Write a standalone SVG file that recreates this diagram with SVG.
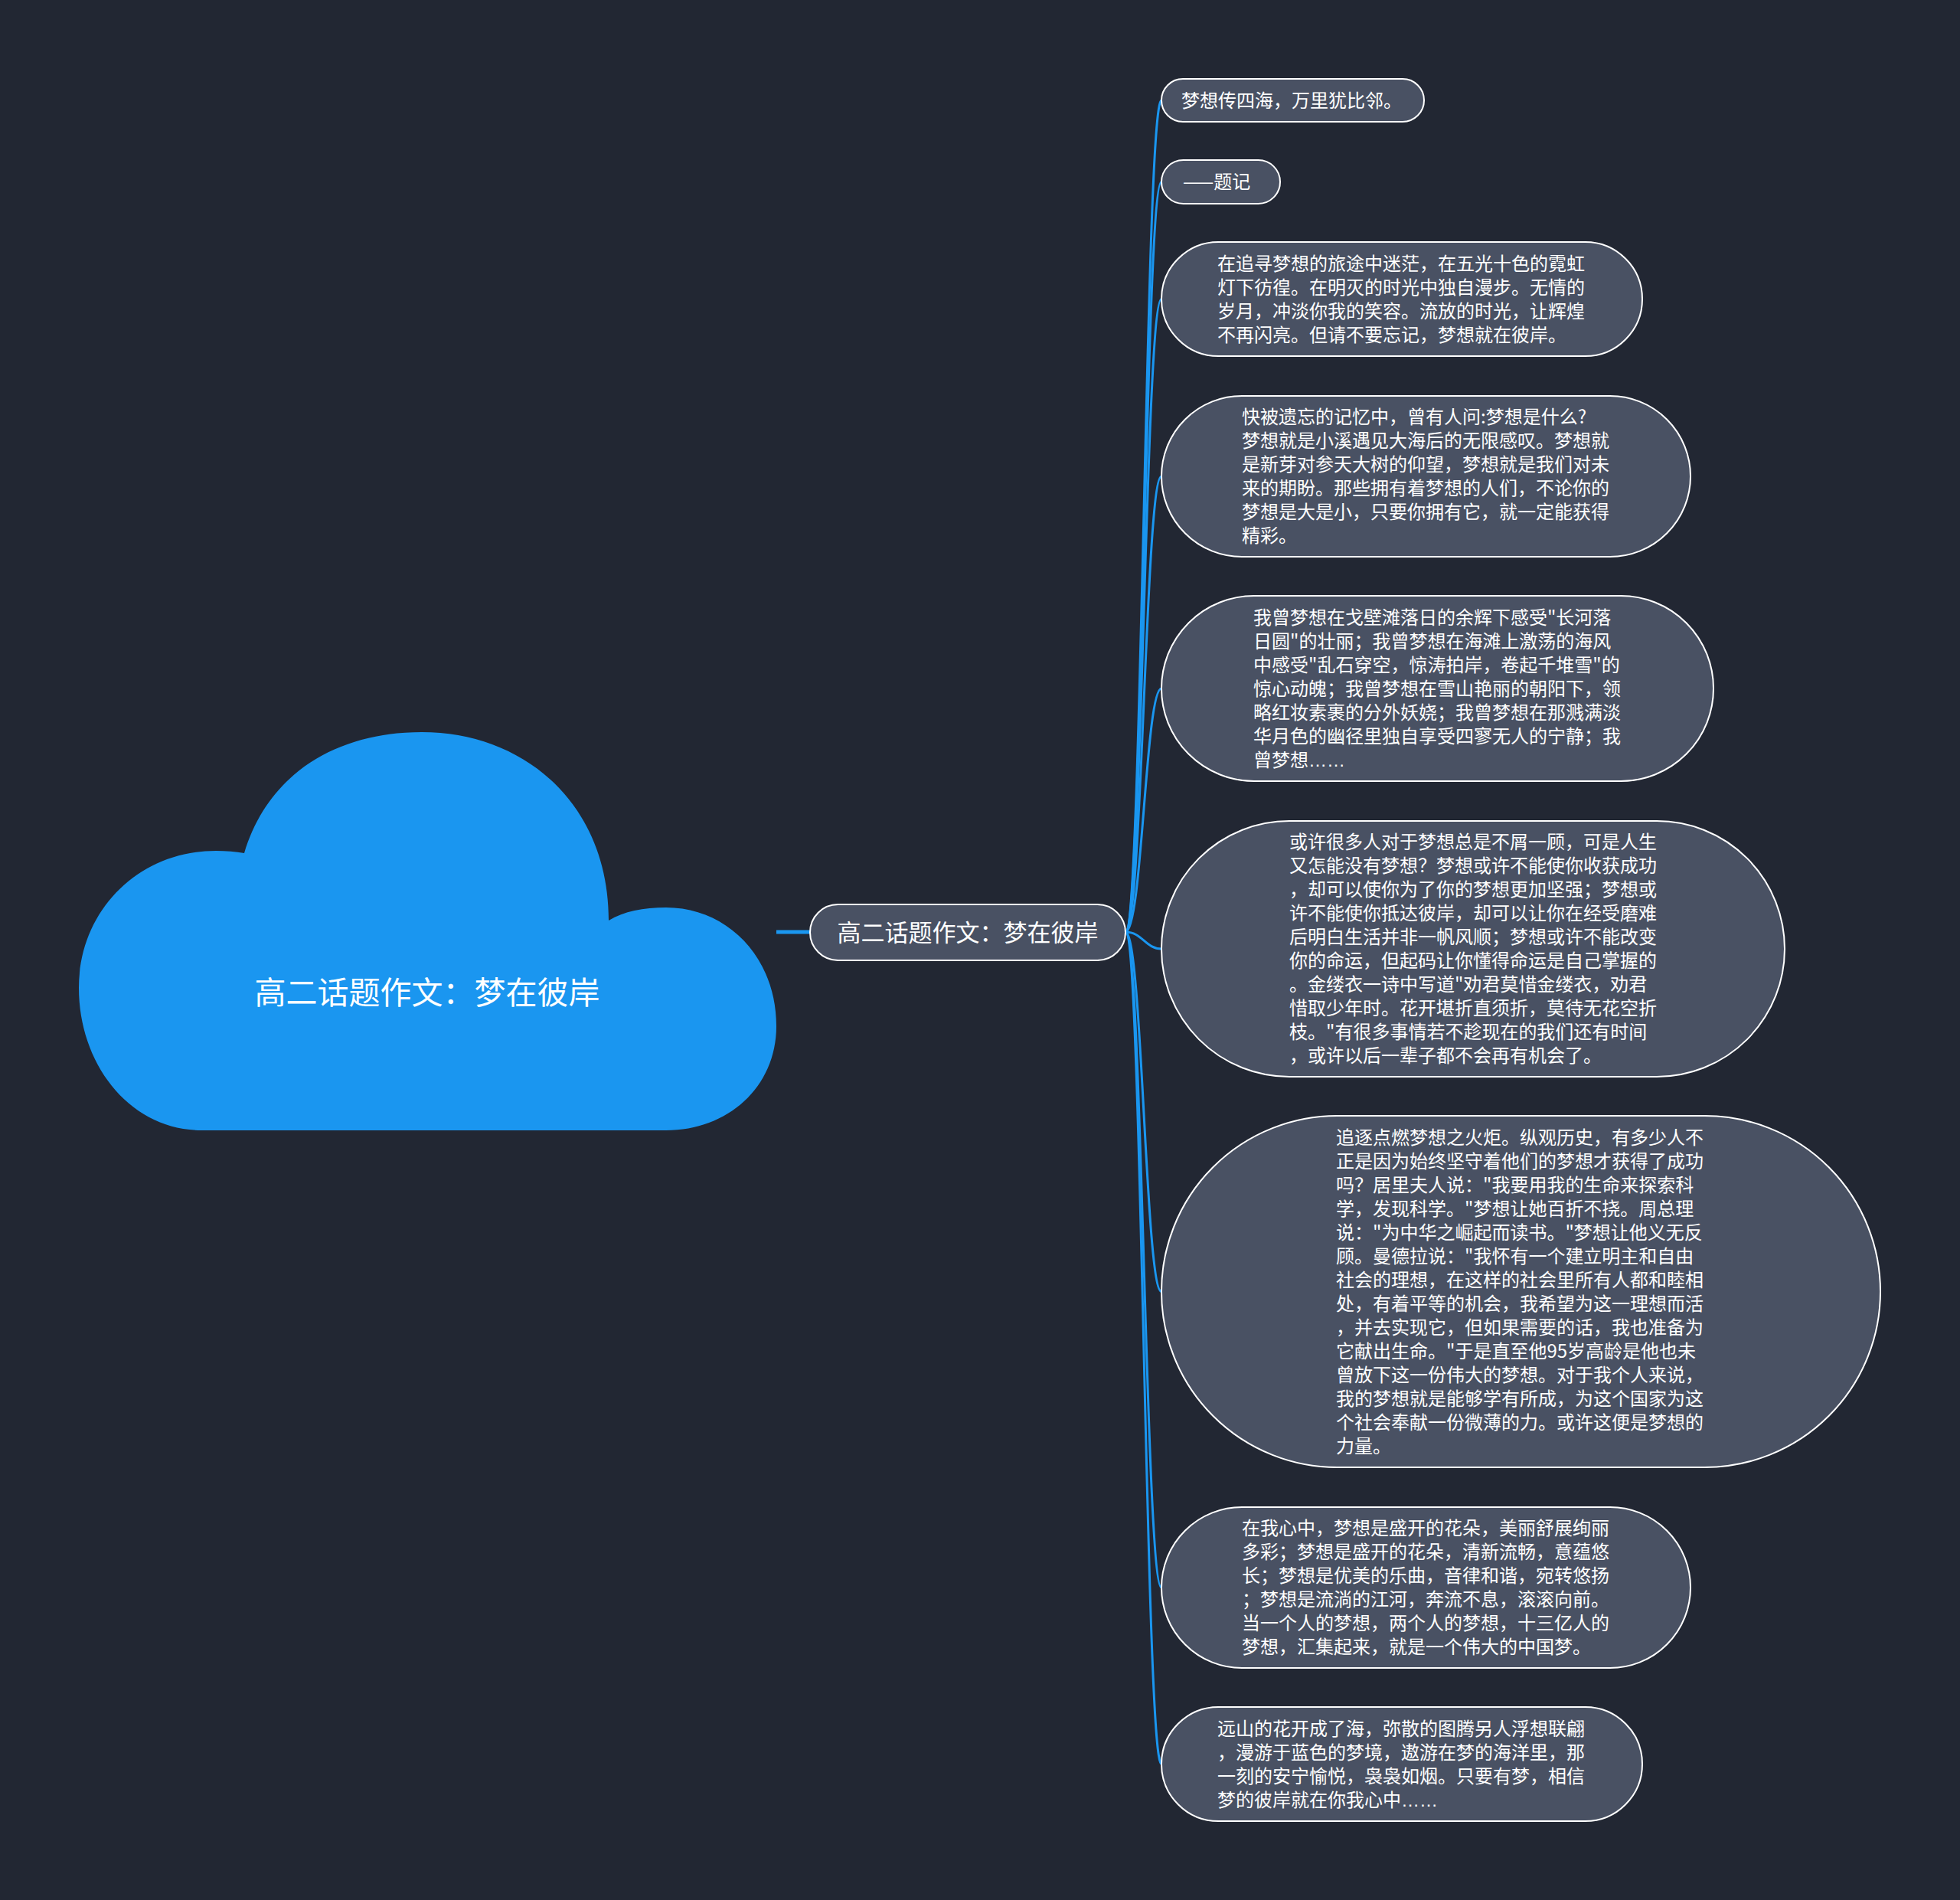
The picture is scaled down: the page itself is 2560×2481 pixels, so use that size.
<svg xmlns="http://www.w3.org/2000/svg" width="2560" height="2481" viewBox="0 0 2560 2481">
<style>
.bg{fill:#222733}
.node{fill:#495163;stroke:#ffffff;stroke-width:2}
.t{font-family:"Noto Sans CJK SC","Noto Sans",sans-serif;fill:#ffffff}
.small{font-size:24px}
.el{font-family:"Liberation Sans",sans-serif}
.link{fill:none;stroke:#1a96f0;stroke-width:3}
</style>
<rect class="bg" x="0" y="0" width="2560" height="2481"/>
<g id="connectors">
<path class="link" d="M1014 1217 L1058 1217" style="stroke-width:5"/>
<path class="link" d="M1470 1217 C1492 1217,1496 131,1517 131"/>
<path class="link" d="M1470 1217 C1492 1217,1496 237.5,1517 237.5"/>
<path class="link" d="M1470 1217 C1492 1217,1496 390.5,1517 390.5"/>
<path class="link" d="M1470 1217 C1492 1217,1496 622,1517 622"/>
<path class="link" d="M1470 1217 C1492 1217,1496 899,1517 899"/>
<path class="link" d="M1470 1217 C1492 1217,1496 1239,1517 1239"/>
<path class="link" d="M1470 1217 C1492 1217,1496 1686.5,1517 1686.5"/>
<path class="link" d="M1470 1217 C1492 1217,1496 2073,1517 2073"/>
<path class="link" d="M1470 1217 C1492 1217,1496 2303.5,1517 2303.5"/>
</g>
<g id="root">
<path d="M264 1476 C170 1476,103 1390,103 1290 C103 1190,180 1111,282 1111 C295 1111,308 1112,319 1114 C350 1010,440 956,551 956 C685 956,795 1050,795 1202 C815 1190,840 1185,870 1185 C950 1185,1014 1250,1014 1340 C1014 1420,950 1476,870 1476 Z" fill="#1a96f0"/>
<text class="t" x="558" y="1293" font-size="41" text-anchor="middle" dominant-baseline="central">高二话题作文：梦在彼岸</text>
</g>
<g id="main">
<rect class="node" x="1058" y="1181" width="412" height="73" rx="36.5"/>
<text class="t" x="1264" y="1215" font-size="31" text-anchor="middle" dominant-baseline="central">高二话题作文：梦在彼岸</text>
</g>
<g id="n1">
<rect class="node" x="1517" y="103" width="343" height="56" rx="28"/>
<text class="t small" x="1543" y="139.5">梦想传四海，万里犹比邻。</text>
</g>
<g id="n2">
<rect class="node" x="1517" y="209" width="155" height="57" rx="28.5"/>
<text class="t small" x="1545" y="246">——题记</text>
</g>
<g id="n3">
<rect class="node" x="1517" y="316" width="628" height="149" rx="74.5"/>
<text class="t small" x="1590" y="352.5"><tspan x="1590">在追寻梦想的旅途中迷茫，在五光十色的霓虹</tspan><tspan x="1590" dy="31">灯下彷徨。在明灭的时光中独自漫步。无情的</tspan><tspan x="1590" dy="31">岁月，冲淡你我的笑容。流放的时光，让辉煌</tspan><tspan x="1590" dy="31">不再闪亮。但请不要忘记，梦想就在彼岸。</tspan></text>
</g>
<g id="n4">
<rect class="node" x="1517" y="517" width="691" height="210" rx="105"/>
<text class="t small" x="1622" y="553"><tspan x="1622">快被遗忘的记忆中，曾有人问:梦想是什么?</tspan><tspan x="1622" dy="31">梦想就是小溪遇见大海后的无限感叹。梦想就</tspan><tspan x="1622" dy="31">是新芽对参天大树的仰望，梦想就是我们对未</tspan><tspan x="1622" dy="31">来的期盼。那些拥有着梦想的人们，不论你的</tspan><tspan x="1622" dy="31">梦想是大是小，只要你拥有它，就一定能获得</tspan><tspan x="1622" dy="31">精彩。</tspan></text>
</g>
<g id="n5">
<rect class="node" x="1517" y="778" width="721" height="242" rx="121"/>
<text class="t small" x="1637" y="815"><tspan x="1637">我曾梦想在戈壁滩落日的余辉下感受"长河落</tspan><tspan x="1637" dy="31">日圆"的壮丽；我曾梦想在海滩上激荡的海风</tspan><tspan x="1637" dy="31">中感受"乱石穿空，惊涛拍岸，卷起千堆雪"的</tspan><tspan x="1637" dy="31">惊心动魄；我曾梦想在雪山艳丽的朝阳下，领</tspan><tspan x="1637" dy="31">略红妆素裹的分外妖娆；我曾梦想在那溅满淡</tspan><tspan x="1637" dy="31">华月色的幽径里独自享受四寥无人的宁静；我</tspan><tspan x="1637" dy="31">曾梦想<tspan class="el">……</tspan></tspan></text>
</g>
<g id="n6">
<rect class="node" x="1517" y="1072" width="814" height="334" rx="167"/>
<text class="t small" x="1684" y="1108"><tspan x="1684">或许很多人对于梦想总是不屑一顾，可是人生</tspan><tspan x="1684" dy="31">又怎能没有梦想？梦想或许不能使你收获成功</tspan><tspan x="1684" dy="31">，却可以使你为了你的梦想更加坚强；梦想或</tspan><tspan x="1684" dy="31">许不能使你抵达彼岸，却可以让你在经受磨难</tspan><tspan x="1684" dy="31">后明白生活并非一帆风顺；梦想或许不能改变</tspan><tspan x="1684" dy="31">你的命运，但起码让你懂得命运是自己掌握的</tspan><tspan x="1684" dy="31">。金缕衣一诗中写道"劝君莫惜金缕衣，劝君</tspan><tspan x="1684" dy="31">惜取少年时。花开堪折直须折，莫待无花空折</tspan><tspan x="1684" dy="31">枝。"有很多事情若不趁现在的我们还有时间</tspan><tspan x="1684" dy="31">，或许以后一辈子都不会再有机会了。</tspan></text>
</g>
<g id="n7">
<rect class="node" x="1517" y="1457" width="939" height="459" rx="229.5"/>
<text class="t small" x="1745" y="1494"><tspan x="1745">追逐点燃梦想之火炬。纵观历史，有多少人不</tspan><tspan x="1745" dy="31">正是因为始终坚守着他们的梦想才获得了成功</tspan><tspan x="1745" dy="31">吗？居里夫人说："我要用我的生命来探索科</tspan><tspan x="1745" dy="31">学，发现科学。"梦想让她百折不挠。周总理</tspan><tspan x="1745" dy="31">说："为中华之崛起而读书。"梦想让他义无反</tspan><tspan x="1745" dy="31">顾。曼德拉说："我怀有一个建立明主和自由</tspan><tspan x="1745" dy="31">社会的理想，在这样的社会里所有人都和睦相</tspan><tspan x="1745" dy="31">处，有着平等的机会，我希望为这一理想而活</tspan><tspan x="1745" dy="31">，并去实现它，但如果需要的话，我也准备为</tspan><tspan x="1745" dy="31">它献出生命。"于是直至他95岁高龄是他也未</tspan><tspan x="1745" dy="31">曾放下这一份伟大的梦想。对于我个人来说，</tspan><tspan x="1745" dy="31">我的梦想就是能够学有所成，为这个国家为这</tspan><tspan x="1745" dy="31">个社会奉献一份微薄的力。或许这便是梦想的</tspan><tspan x="1745" dy="31">力量。</tspan></text>
</g>
<g id="n8">
<rect class="node" x="1517" y="1968" width="691" height="210" rx="105"/>
<text class="t small" x="1622" y="2004"><tspan x="1622">在我心中，梦想是盛开的花朵，美丽舒展绚丽</tspan><tspan x="1622" dy="31">多彩；梦想是盛开的花朵，清新流畅，意蕴悠</tspan><tspan x="1622" dy="31">长；梦想是优美的乐曲，音律和谐，宛转悠扬</tspan><tspan x="1622" dy="31">；梦想是流淌的江河，奔流不息，滚滚向前。</tspan><tspan x="1622" dy="31">当一个人的梦想，两个人的梦想，十三亿人的</tspan><tspan x="1622" dy="31">梦想，汇集起来，就是一个伟大的中国梦。</tspan></text>
</g>
<g id="n9">
<rect class="node" x="1517" y="2229" width="628" height="149" rx="74.5"/>
<text class="t small" x="1590" y="2265.5"><tspan x="1590">远山的花开成了海，弥散的图腾另人浮想联翩</tspan><tspan x="1590" dy="31">，漫游于蓝色的梦境，遨游在梦的海洋里，那</tspan><tspan x="1590" dy="31">一刻的安宁愉悦，袅袅如烟。只要有梦，相信</tspan><tspan x="1590" dy="31">梦的彼岸就在你我心中<tspan class="el">……</tspan></tspan></text>
</g>
</svg>
